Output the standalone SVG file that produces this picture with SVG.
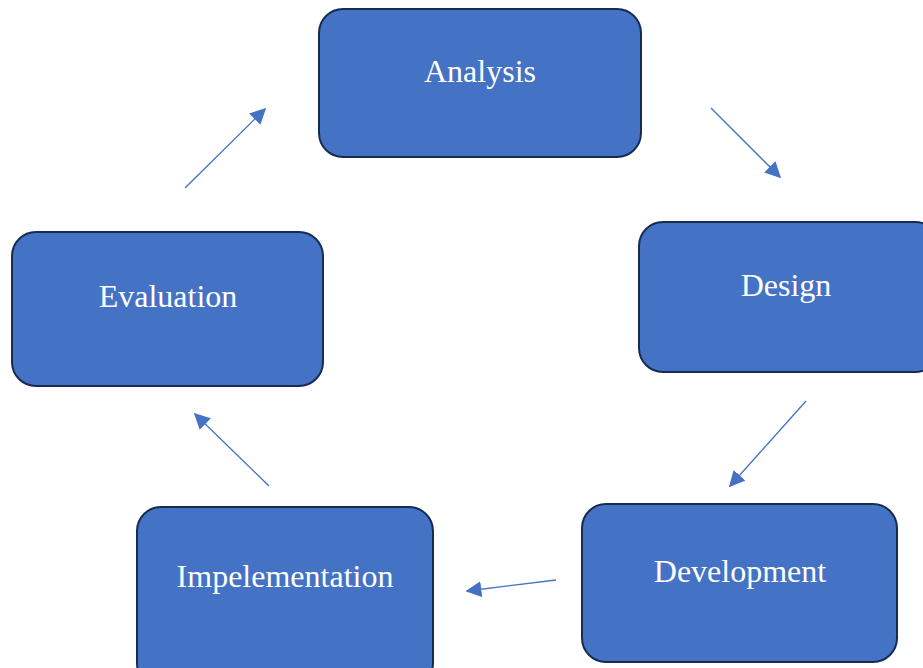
<svg xmlns="http://www.w3.org/2000/svg" width="923" height="668" viewBox="0 0 923 668">
<style>
.box{fill:#4472C4;stroke:#172C51;stroke-width:2}
.lbl{fill:#fff;font-family:"Liberation Serif",serif;font-size:32px;text-anchor:middle}
.con{stroke:#4472C4;stroke-width:1.3;fill:none;marker-end:url(#ah)}
</style>
<defs>
<marker id="ah" viewBox="0 0 10 10" refX="9" refY="5" markerWidth="16" markerHeight="16" markerUnits="userSpaceOnUse" orient="auto">
<path d="M0,0 L10,5 L0,10 z" fill="#4472C4"/>
</marker>
</defs>
<rect width="923" height="668" fill="#fff"/>
<g id="analysis"><rect class="box" x="319" y="9" width="322" height="148" rx="24"/><text class="lbl" x="480" y="82">Analysis</text></g>
<g id="design"><rect class="box" x="639" y="222" width="300" height="150" rx="24"/><text class="lbl" x="786" y="296">Design</text></g>
<g id="development"><rect class="box" x="582" y="504" width="315" height="158" rx="24"/><text class="lbl" x="740" y="582">Development</text></g>
<g id="implementation"><rect class="box" x="137" y="507" width="296" height="180" rx="24"/><text class="lbl" x="285" y="587">Impelementation</text></g>
<g id="evaluation"><rect class="box" x="12" y="232" width="311" height="154" rx="24"/><text class="lbl" x="168" y="307">Evaluation</text></g>
<g id="connectors">
<line class="con" x1="711" y1="108" x2="780" y2="177"/>
<line class="con" x1="806" y1="401" x2="730" y2="486"/>
<line class="con" x1="556" y1="580" x2="467" y2="591"/>
<line class="con" x1="269" y1="486" x2="195" y2="414"/>
<line class="con" x1="185" y1="188" x2="265" y2="109"/>
</g>
</svg>
